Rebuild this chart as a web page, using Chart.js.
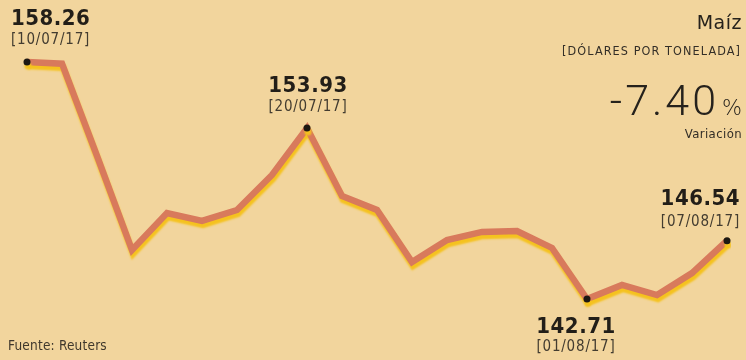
<!DOCTYPE html>
<html>
<head>
<meta charset="utf-8">
<title>Maíz</title>
<script src="https://cdn.jsdelivr.net/npm/chart.js@4/dist/chart.umd.min.js"></script>
<style>
	html, body { margin: 0; padding: 0; background: #f2d59d; }
	#caja { position: relative; width: 746px; height: 360px; background: #f2d59d; }
	canvas { display: block; filter: blur(0.35px); }
</style>
</head>
<body>
<div id="caja"><canvas id="maizChart" width="746" height="360"></canvas></div>
<script>
// precio del maíz, dólares por tonelada
const fechas = ['10/07/17','11/07/17','12/07/17','13/07/17','14/07/17','17/07/17','18/07/17','19/07/17','20/07/17','21/07/17',
	'24/07/17','25/07/17','26/07/17','27/07/17','28/07/17','31/07/17','01/08/17','02/08/17','03/08/17','04/08/17','07/08/17'];
const precios = [158.26, 158.15, 152.10, 145.92, 148.35, 147.83, 148.55, 150.85, 153.93, 149.47,
	148.55, 145.14, 146.58, 147.11, 147.17, 146.06, 142.71, 143.63, 142.97, 144.41, 146.54];
// puntos marcados con valor y fecha
const marcados = [0, 8, 16, 20];

const variacion = '-7.40';

document.addEventListener("DOMContentLoaded", function(){
	const ctx = document.getElementById('maizChart').getContext('2d');

	// donde va cada etiqueta respecto a su punto
	const posEtiqueta = {
		0:  { align: 'left',   dx: -16, dyValor: -37, dyFecha: -18 },
		8:  { align: 'center', dx: 1,   dyValor: -36, dyFecha: -17 },
		16: { align: 'center', dx: -11, dyValor: 34,  dyFecha: 52 },
		20: { align: 'right',  dx: 13,  dyValor: -36, dyFecha: -15 }
	};

	const textos = [
		{ t: 'Maíz', x: 742, y: 29, font: '19px "DejaVu Sans"', color: '#26221c', align: 'right', esp: '0.5px' },
		{ t: '[DÓLARES POR TONELADA]', x: 741, y: 55, font: '12.5px "DejaVu Sans Condensed"', color: '#332e27', align: 'right', esp: '1.1px' },
		{ t: variacion, x: 719, y: 115, font: '300 43px Roboto', color: '#26221c', align: 'right', esp: '3px' },
		{ t: '%', x: 742, y: 115, font: '200 21px "DejaVu Sans"', color: '#26221c', align: 'right', esp: '0px' },
		{ t: 'Variación', x: 742, y: 138, font: '13px "DejaVu Sans Condensed"', color: '#332e27', align: 'right', esp: '0.4px' },
		{ t: 'Fuente: Reuters', x: 8, y: 350, font: '13.5px "DejaVu Sans Condensed"', color: '#3f382c', align: 'left', esp: '0.2px' }
	];

	// sombra amarilla bajo la línea
	const sombra = {
		id: 'sombra',
		beforeDatasetDraw(chart) {
			const c = chart.ctx;
			c.save();
			c.shadowColor = '#f5c21e';
			c.shadowOffsetX = 1;
			c.shadowOffsetY = 4;
			c.shadowBlur = 2;
		},
		afterDatasetDraw(chart) {
			chart.ctx.restore();
		}
	};

	const etiquetas = {
		id: 'etiquetas',
		afterDraw(chart) {
			const c = chart.ctx;
			const meta = chart.getDatasetMeta(0);
			c.save();
			c.textBaseline = 'alphabetic';
			marcados.forEach(function(i){
				const p = meta.data[i];
				const pos = posEtiqueta[i];
				c.textAlign = pos.align;
				c.fillStyle = '#221e18';
				c.font = 'bold 22px "DejaVu Sans Condensed"';
				c.letterSpacing = '0.5px';
				c.fillText(precios[i].toFixed(2), p.x + pos.dx, p.y + pos.dyValor);
				c.fillStyle = '#433c30';
				c.font = '15px "DejaVu Sans Condensed"';
				c.letterSpacing = '0.8px';
				c.fillText('[' + fechas[i] + ']', p.x + pos.dx, p.y + pos.dyFecha);
			});
			textos.forEach(function(o){
				c.font = o.font;
				c.fillStyle = o.color;
				c.textAlign = o.align;
				c.letterSpacing = o.esp;
				c.fillText(o.t, o.x, o.y);
			});
			c.restore();
		}
	};

	const radios = precios.map(function(v, i){ return marcados.includes(i) ? 3.5 : 0; });

	const maizChart = new Chart(ctx, {
		type: 'line',
		data: {
			labels: fechas,
			datasets: [
				{
					label: 'Maíz',
					data: precios,
					borderColor: '#d87a5c',
					borderWidth: 6.5,
					borderJoinStyle: 'miter',
					borderCapStyle: 'butt',
					tension: 0,
					pointRadius: radios,
					pointBackgroundColor: '#1d1812',
					pointBorderWidth: 0
				}
			]
		},
		options: {
			responsive: false,
			animation: false,
			layout: { padding: { left: 27, right: 19, top: 35.5, bottom: 19.7 } },
			scales: {
				x: { display: false, offset: false },
				y: { display: false, min: 140, max: 160 }
			},
			plugins: {
				legend: { display: false },
				tooltip: { enabled: false }
			}
		},
		plugins: [sombra, etiquetas]
	});
});
</script>
</body>
</html>
